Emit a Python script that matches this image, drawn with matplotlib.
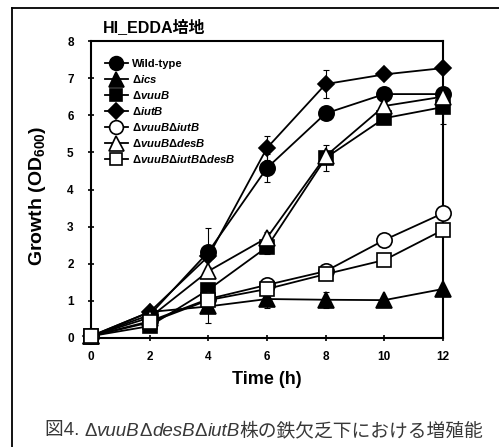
import matplotlib
matplotlib.use("Agg")
import matplotlib.pyplot as plt
from matplotlib.lines import Line2D

plt.rcParams['font.family'] = ['Liberation Sans', 'Noto Sans CJK JP', 'DejaVu Sans']
plt.rcParams['mathtext.fontset'] = 'custom'
plt.rcParams['mathtext.rm'] = 'Liberation Sans:bold'
plt.rcParams['mathtext.it'] = 'Liberation Sans:italic:bold'
plt.rcParams['mathtext.bf'] = 'Liberation Sans:bold'

# data
time_h = [0, 2, 4, 6, 8, 10, 12]

wild_type = [0.05, 0.62, 2.32, 4.58, 6.05, 6.57, 6.57]
ics = [0.05, 0.70, 0.85, 1.05, 1.03, 1.02, 1.32]
vuuB = [0.05, 0.32, 1.30, 2.45, 4.85, 5.92, 6.22]
iutB = [0.05, 0.70, 2.20, 5.12, 6.84, 7.10, 7.27]
vuuB_iutB = [0.05, 0.45, 1.05, 1.43, 1.80, 2.64, 3.36]
vuuB_desB = [0.05, 0.55, 1.80, 2.70, 4.90, 6.25, 6.50]
vuuB_iutB_desB = [0.05, 0.42, 1.02, 1.32, 1.72, 2.10, 2.91]

err_wild_type = [0, 0.05, 0.65, 0.38, 0.1, 0.1, 0.1]
err_ics = [0, 0.1, 0.45, 0.25, 0.22, 0.05, 0.05]
err_vuuB = [0, 0.05, 0.1, 0.2, 0.35, 0.1, 0.45]
err_iutB = [0, 0.05, 0.1, 0.32, 0.38, 0.05, 0.05]
err_vuuB_iutB = [0, 0.05, 0.05, 0.05, 0.05, 0.05, 0.05]
err_vuuB_desB = [0, 0.05, 0.1, 0.15, 0.1, 0.1, 0.1]
err_vuuB_iutB_desB = [0, 0.05, 0.05, 0.05, 0.05, 0.05, 0.05]

labels = ['Wild-type', r'$\Delta\mathit{ics}$', r'$\Delta\mathit{vuuB}$', r'$\Delta\mathit{iutB}$',
          r'$\Delta\mathit{vuuB}\Delta\mathit{iutB}$', r'$\Delta\mathit{vuuB}\Delta\mathit{desB}$',
          r'$\Delta\mathit{vuuB}\Delta\mathit{iutB}\Delta\mathit{desB}$']

series = [wild_type, ics, vuuB, iutB, vuuB_iutB, vuuB_desB, vuuB_iutB_desB]
errors = [err_wild_type, err_ics, err_vuuB, err_iutB, err_vuuB_iutB, err_vuuB_desB, err_vuuB_iutB_desB]
markers = ['o', '^', 's', 'D', 'o', '^', 's']
sizes = [11, 12, 10, 8.5, 11, 12, 10]
fills = ['black', 'black', 'black', 'black', 'white', 'white', 'white']

fig = plt.figure(figsize=(4.99, 4.47), dpi=100)
ax = fig.add_axes([91/499, 1-338/447, 352/499, 297/447])

for i in range(len(series)):
    ax.errorbar(time_h, series[i], yerr=errors[i], fmt='none', ecolor='black',
                elinewidth=0.8, capsize=2, capthick=0.8, zorder=2+i, clip_on=False)
    ax.plot(time_h, series[i], color='black', lw=1.3, marker=markers[i], ms=sizes[i],
            mfc=fills[i], mec='black', mew=1.2, label=labels[i], zorder=3+i, clip_on=False)

ax.set_xlim(0, 12)
ax.set_ylim(0, 8)
ax.set_xticks(time_h)
ax.set_yticks(range(0, 9))
for s in ax.spines.values():
    s.set_linewidth(1.5)
ax.tick_params(axis='y', direction='inout', length=5, width=1.2, pad=10, labelsize=8.5)
ax.tick_params(axis='x', direction='inout', length=5, width=1.2, pad=7, labelsize=8.5)
for lab in ax.get_xticklabels() + ax.get_yticklabels():
    lab.set_fontweight('bold')

ax.set_xlabel('Time (h)', fontsize=13, fontweight='bold')
ax.set_ylabel('Growth (OD$_{600}$)', fontsize=14, fontweight='bold')
ax.xaxis.set_label_coords(0.5, -0.11)
ax.yaxis.set_label_coords(-0.122, 0.48)

leg = ax.legend(loc='upper left', bbox_to_anchor=(0.04, 0.94), frameon=False,
                fontsize=8.1, handlelength=2.0, handletextpad=0.35, labelspacing=0.36,
                borderpad=0, borderaxespad=0, markerscale=0.9)
for t in leg.get_texts():
    t.set_fontweight('bold')

fig.text(103/499, 1-27/447, 'HI_EDDA培地', fontsize=11.5, fontweight='bold', va='center', ha='left')

# outer frame (only top and left edges are inside the picture)
fig.add_artist(Line2D([12/499, 12/499], [0, 1-8/447], color='black', lw=1.3))
fig.add_artist(Line2D([12/499, 1], [1-8/447, 1-8/447], color='black', lw=1.3))

# caption built from pieces, italic gene names
caption = [('図4. ', 'normal'), ('Δ', 'normal'), ('vuuB', 'italic'), ('Δ', 'normal'), ('desB', 'italic'),
           ('Δ', 'normal'), ('iutB', 'italic'), ('株の鉄欠乏下における増殖能', 'normal')]
fig.canvas.draw()
r = fig.canvas.get_renderer()
x = 45
for txt, st in caption:
    t = fig.text(x/499, 1-431/447, txt, fontsize=13.5, style=st, color='#383838',
                 va='center', ha='left')
    x += t.get_window_extent(r).width

fig.savefig('out.png', dpi=100)
